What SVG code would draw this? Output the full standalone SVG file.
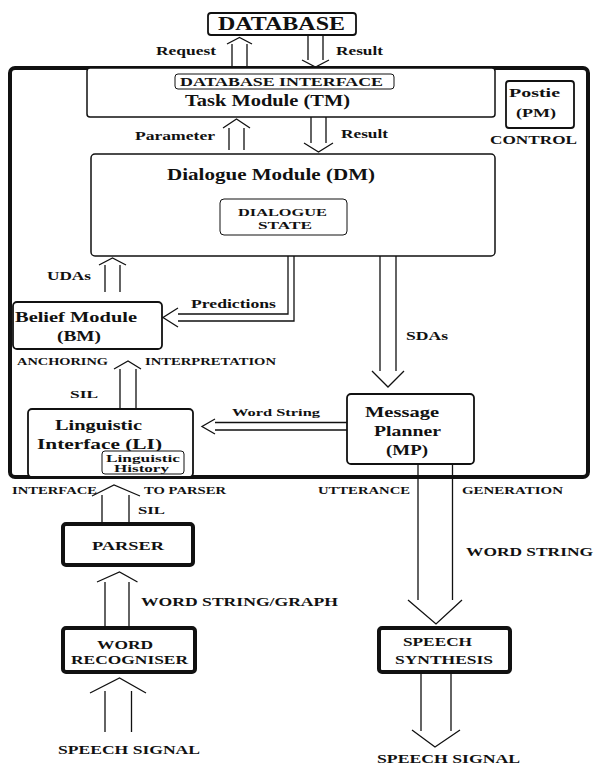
<svg xmlns="http://www.w3.org/2000/svg" width="595" height="765" viewBox="0 0 595 765">
<style>
text{font-family:"Liberation Serif","Times New Roman",serif;font-weight:bold;fill:#111}
.box{fill:#fff;stroke:#111;stroke-width:1.8}
.thin{fill:#fff;stroke:#111;stroke-width:1}
.thick{fill:#fff;stroke:#111;stroke-width:4}
.outer{fill:none;stroke:#111;stroke-width:4}
.ln{fill:none;stroke:#111;stroke-width:1.3}
</style>
<rect x="0" y="0" width="595" height="765" fill="#fff"/>
<g id="control">
<rect class="outer" x="10" y="68" width="578" height="409" rx="5"/>
<text x="490" y="144" font-size="13.5" textLength="87" lengthAdjust="spacingAndGlyphs">CONTROL</text>
</g>
<g id="database">
<rect class="box" x="208" y="13" width="148" height="22" rx="3"/>
<text x="218" y="30" font-size="18" textLength="127" lengthAdjust="spacingAndGlyphs">DATABASE</text>
</g>
<g id="tm">
<rect class="box" x="87" y="68" width="408" height="49" rx="3" style="stroke-width:1.5"/>
<rect class="thin" x="175" y="74" width="219" height="15" rx="3"/>
<text x="180" y="85.5" font-size="12.5" textLength="203" lengthAdjust="spacingAndGlyphs">DATABASE INTERFACE</text>
<text x="185" y="106" font-size="17" textLength="165" lengthAdjust="spacingAndGlyphs">Task Module (TM)</text>
</g>
<g id="pm">
<rect class="box" x="506" y="81" width="68" height="47" rx="3"/>
<text x="509" y="97" font-size="13" textLength="51" lengthAdjust="spacingAndGlyphs">Postie</text>
<text x="516" y="117" font-size="13" textLength="40" lengthAdjust="spacingAndGlyphs">(PM)</text>
</g>
<g id="dm">
<rect class="box" x="91" y="154" width="404" height="102" rx="4" style="stroke-width:1.5"/>
<text x="167" y="180" font-size="16" textLength="208" lengthAdjust="spacingAndGlyphs">Dialogue Module (DM)</text>
<rect class="thin" x="220" y="199" width="127" height="36" rx="4"/>
<text x="238" y="215.5" font-size="10.5" textLength="89" lengthAdjust="spacingAndGlyphs">DIALOGUE</text>
<text x="258" y="228.5" font-size="10.5" textLength="54" lengthAdjust="spacingAndGlyphs">STATE</text>
</g>
<g id="bm">
<rect class="box" x="13" y="302" width="149" height="47" rx="4"/>
<text x="15" y="321.5" font-size="15" textLength="122" lengthAdjust="spacingAndGlyphs">Belief Module</text>
<text x="57" y="341" font-size="15" textLength="44" lengthAdjust="spacingAndGlyphs">(BM)</text>
</g>
<g id="li">
<rect class="box" x="28" y="409" width="165" height="68" rx="4"/>
<text x="55" y="429.5" font-size="14" textLength="87" lengthAdjust="spacingAndGlyphs">Linguistic</text>
<text x="37" y="448.5" font-size="14" textLength="125" lengthAdjust="spacingAndGlyphs">Interface (LI)</text>
<rect class="thin" x="102" y="451" width="82" height="23" rx="3"/>
<text x="106" y="461.5" font-size="11" textLength="74" lengthAdjust="spacingAndGlyphs">Linguistic</text>
<text x="114" y="472" font-size="11" textLength="55" lengthAdjust="spacingAndGlyphs">History</text>
</g>
<g id="mp">
<rect class="box" x="347" y="394" width="127" height="70" rx="4"/>
<text x="365" y="416.5" font-size="15" textLength="74" lengthAdjust="spacingAndGlyphs">Message</text>
<text x="374" y="435.5" font-size="15" textLength="67" lengthAdjust="spacingAndGlyphs">Planner</text>
<text x="386" y="455" font-size="15" textLength="42" lengthAdjust="spacingAndGlyphs">(MP)</text>
</g>
<g id="parser">
<rect class="thick" x="63" y="524" width="130" height="41" rx="3"/>
<text x="92" y="550" font-size="12.5" textLength="72" lengthAdjust="spacingAndGlyphs">PARSER</text>
</g>
<g id="recogniser">
<rect class="thick" x="63" y="628" width="132" height="44" rx="3"/>
<text x="97" y="648.5" font-size="12.5" textLength="56" lengthAdjust="spacingAndGlyphs">WORD</text>
<text x="71" y="664" font-size="12.5" textLength="117" lengthAdjust="spacingAndGlyphs">RECOGNISER</text>
</g>
<g id="synthesis">
<rect class="thick" x="379" y="628" width="131" height="44" rx="3"/>
<text x="403" y="646" font-size="13" textLength="69" lengthAdjust="spacingAndGlyphs">SPEECH</text>
<text x="395" y="663.5" font-size="13" textLength="98" lengthAdjust="spacingAndGlyphs">SYNTHESIS</text>
</g>
<g id="connectors">
<path class="ln" d="M232,44V67M247,44V67M227,44L239.5,37.5L252,44"/>
<text x="156" y="55" font-size="12.5" textLength="60" lengthAdjust="spacingAndGlyphs">Request</text>
<path class="ln" d="M308,35V60M323,35V60M302,60L315.5,67L329,60"/>
<text x="336" y="55" font-size="12.5" textLength="47" lengthAdjust="spacingAndGlyphs">Result</text>
<path class="ln" d="M229,128V150M244,128V150M223,128L236.5,119L250,128"/>
<text x="135" y="140" font-size="12.5" textLength="80" lengthAdjust="spacingAndGlyphs">Parameter</text>
<path class="ln" d="M311,117V143M326,117V143M304,143L318.5,152L333,143"/>
<text x="341" y="138" font-size="12.5" textLength="47" lengthAdjust="spacingAndGlyphs">Result</text>
<path class="ln" d="M105,265V292M120,265V292M99,265L112.5,258L126,265"/>
<text x="47" y="280" font-size="12" textLength="44" lengthAdjust="spacingAndGlyphs">UDAs</text>
<path class="ln" d="M288,256V314H178M294,256V321H178M178,308L163,317.5L178,327"/>
<text x="191" y="307.5" font-size="12" textLength="85" lengthAdjust="spacingAndGlyphs">Predictions</text>
<path class="ln" d="M380,256V371M396,256V371M372,371L388,387L404,371"/>
<text x="406" y="339.5" font-size="12" textLength="42" lengthAdjust="spacingAndGlyphs">SDAs</text>
<path class="ln" d="M120,369V409M136,369V409M114,369L128,361L141,369"/>
<text x="70" y="397.5" font-size="11" textLength="28" lengthAdjust="spacingAndGlyphs">SIL</text>
<text x="17" y="365" font-size="9.5" textLength="91" lengthAdjust="spacingAndGlyphs">ANCHORING</text>
<text x="145" y="365" font-size="9.5" textLength="131" lengthAdjust="spacingAndGlyphs">INTERPRETATION</text>
<path class="ln" d="M215,422.5H347M215,430H347M215,419L202,426.5L215,434"/>
<text x="232" y="415.5" font-size="10.5" textLength="88" lengthAdjust="spacingAndGlyphs">Word String</text>
<path class="ln" d="M102,495V524M129,495V524M92,496L114,485L140,496"/>
<text x="138" y="514" font-size="11" textLength="27" lengthAdjust="spacingAndGlyphs">SIL</text>
<text x="12" y="493.5" font-size="9.5" textLength="85" lengthAdjust="spacingAndGlyphs">INTERFACE</text>
<text x="144" y="493.5" font-size="9.5" textLength="82" lengthAdjust="spacingAndGlyphs">TO PARSER</text>
<path class="ln" d="M418,464V600M452.5,464V600M408,600L436,624L462,600"/>
<text x="318" y="493.5" font-size="9.5" textLength="92" lengthAdjust="spacingAndGlyphs">UTTERANCE</text>
<text x="462" y="493.5" font-size="9.5" textLength="101" lengthAdjust="spacingAndGlyphs">GENERATION</text>
<text x="466" y="555.5" font-size="13" textLength="127" lengthAdjust="spacingAndGlyphs">WORD STRING</text>
<path class="ln" d="M105,582V628M129,582V628M97,582L119.5,572L137.5,582"/>
<text x="141" y="606" font-size="13" textLength="197" lengthAdjust="spacingAndGlyphs">WORD STRING/GRAPH</text>
<path class="ln" d="M105,691V732M131.5,691V732M90,693L119.5,678L146,693"/>
<text x="58" y="754" font-size="13" textLength="142" lengthAdjust="spacingAndGlyphs">SPEECH SIGNAL</text>
<path class="ln" d="M421,672V731M451,672V731M412,730L435,747L460,730"/>
<text x="377" y="763" font-size="13" textLength="143" lengthAdjust="spacingAndGlyphs">SPEECH SIGNAL</text>
</g>
</svg>
